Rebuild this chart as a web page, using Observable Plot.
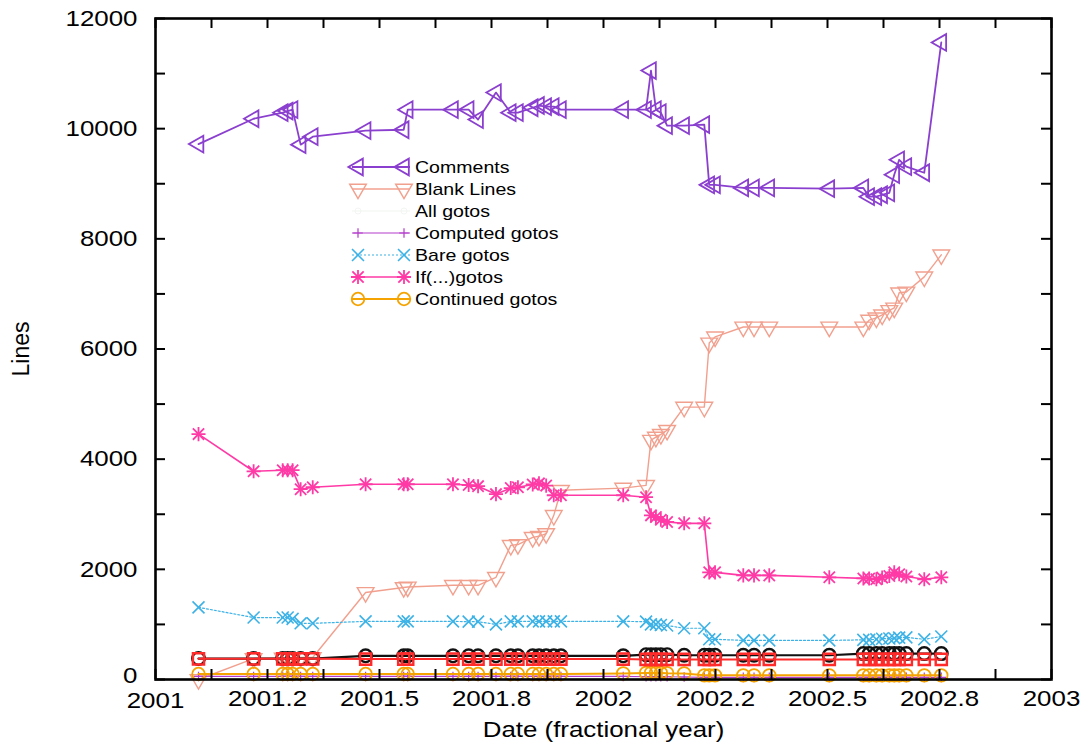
<!DOCTYPE html>
<html><head><meta charset="utf-8">
<script src="https://cdn.jsdelivr.net/npm/d3@7"></script>
<script src="https://cdn.jsdelivr.net/npm/@observablehq/plot@0.6"></script>
<style>
body{margin:0;background:#fff;}
#wrap{position:relative;width:1086px;height:745px;font-family:"Liberation Sans",Arial,sans-serif;overflow:hidden;}
#wrap svg{position:absolute;left:0;top:0;}
</style></head><body><div id="wrap"></div>
<script>
// ---- data (dates in fractional years, values in lines) ----
const dates = [2001.096,2001.219,2001.284,2001.295,2001.306,2001.324,2001.351,2001.469,2001.554,2001.563,
  2001.664,2001.699,2001.720,2001.760,2001.793,2001.809,2001.842,2001.856,2001.872,2001.889,
  2001.905,2002.044,2002.095,2002.106,2002.117,2002.128,2002.142,2002.180,2002.225,2002.236,
  2002.249,2002.312,2002.336,2002.370,2002.504,2002.580,2002.593,2002.609,2002.622,2002.638,
  2002.649,2002.660,2002.676,2002.716,2002.754];
const comments = [9720,10180,10290,10320,10345,9710,9855,9965,9980,10345,
  10345,10345,10165,10655,10290,10290,10380,10420,10400,10400,
  10345,10345,10345,11055,10345,10290,10055,10055,10075,8980,
  8980,8925,8925,8925,8910,8925,8765,8765,8800,8835,
  9165,9435,9310,9200,11565];
const blankLines = [0,380,390,390,395,400,400,1580,1670,1680,
  1710,1710,1710,1855,2435,2450,2580,2600,2650,2980,
  3435,3475,3525,4345,4400,4450,4525,4945,4945,6110,
  6220,6400,6400,6400,6400,6400,6525,6565,6620,6700,
  6745,7020,7035,7310,7710];
const computedGotos = [55,55,55,55,55,55,55,55,55,55,
  55,55,55,55,55,55,55,55,55,55,
  55,55,50,50,50,50,50,45,40,40,
  40,38,38,38,38,38,38,38,38,38,
  38,38,38,38,38];
const bareGotos = [1310,1125,1125,1125,1100,1020,1020,1055,1055,1055,
  1055,1050,1050,1000,1055,1055,1055,1055,1055,1055,
  1055,1055,1050,1000,1000,990,980,930,930,730,
  730,710,710,710,710,720,720,730,740,745,
  750,760,765,730,780];
const ifGotos = [4455,3780,3800,3800,3800,3455,3490,3545,3545,3545,
  3545,3530,3510,3365,3475,3490,3540,3560,3520,3345,
  3345,3345,3310,2980,2950,2900,2860,2835,2835,1945,
  1945,1890,1890,1890,1855,1835,1835,1820,1850,1880,
  1945,1910,1870,1820,1855];
const continuedGotos = [100,100,100,100,100,100,100,100,100,100,
  100,100,100,100,100,100,100,100,100,100,
  100,110,120,120,120,120,115,110,75,75,
  75,75,75,75,75,75,75,75,75,75,
  75,75,75,75,75];
const blackSeries = [380,380,380,380,380,380,380,430,430,430,
  430,430,430,430,430,430,430,430,430,430,
  430,430,450,450,450,450,450,440,440,440,
  440,440,440,440,440,470,470,470,470,470,
  470,470,470,470,470];
const redSeries = [375,375,375,375,375,375,375,370,370,370,
  370,370,370,370,370,370,370,370,370,370,
  370,370,365,365,365,365,365,365,365,365,
  365,365,365,365,365,365,365,365,365,365,
  365,365,365,365,365];

const xTickValues = [2001,2001.25,2001.5,2001.75,2002,2002.25,2002.5,2002.75,2003];
const xTickLabels = ["2001","2001.2","2001.5","2001.8","2002","2002.2","2002.5","2002.8","2003"];
const yTickValues = [0,2000,4000,6000,8000,10000,12000];
const yTickLabels = ["0","2000","4000","6000","8000","10000","12000"];
const legendNames = ["Comments","Blank Lines","All gotos","Computed gotos","Bare gotos","If(...)gotos","Continued gotos"];

// ---- custom symbols ----
const S3 = Math.sqrt(3);
const triLeft = {draw(c, size){const y=-Math.sqrt(size/(S3*3)); c.moveTo(2*y,0); c.lineTo(-y,-S3*y); c.lineTo(-y,S3*y); c.closePath();}};
const triDown = {draw(c, size){const y=-Math.sqrt(size/(S3*3)); c.moveTo(0,-2*y); c.lineTo(S3*y,y); c.lineTo(-S3*y,y); c.closePath();}};

// ---- series styles ----
const series = [
  {name:"Comments", values:comments, color:"#8a3fcf", symbols:[[triLeft,6.2]], lw:1.8, mw:1.8},
  {name:"Blank Lines", values:blankLines, color:"#f2a08e", symbols:[[triDown,6.2]], lw:1.4, mw:1.4},
  {name:"Computed gotos", values:computedGotos, color:"#b43ccc", symbols:[["plus",3.2]], lw:1.2, mw:1.2},
  {name:"Bare gotos", values:bareGotos, color:"#3cb2e6", symbols:[["times",5.5]], lw:1.2, mw:1.6, dash:"2,2"},
  {name:"If(...)gotos", values:ifGotos, color:"#ff3aa6", symbols:[["plus",4.6],["times",5.2]], lw:1.6, mw:1.8},
  {name:"Continued gotos", values:continuedGotos, color:"#f5a300", symbols:[["circle",6.3]], lw:2, mw:1.8},
  {name:"black", values:blackSeries, color:"#111111", symbols:[["circle",6.3]], lw:2.2, mw:2.4},
  {name:"red", values:redSeries, color:"#ff2a2a", symbols:[["square",6.3]], lw:2, mw:2.4}
];

const W=1086, H=745, mL=155, mR=35, mT=18, mB=66;
const innerW = W-mL-mR, innerH = H-mT-mB, tickLen = 10;
const xAllTicks = d3.range(2001, 2003.0001, 0.125);
const yAllTicks = d3.range(0, 12001, 1000);
const yFmt = d => yTickLabels[yTickValues.indexOf(d)];
const xFmt = d => xTickLabels[xTickValues.indexOf(d)];

const marks = [];
for (const s of series) {
  const rows = dates.map((d,i)=>({date:d, value:s.values[i]}));
  marks.push(Plot.line(rows, {x:"date", y:"value", stroke:s.color, strokeWidth:s.lw, strokeDasharray:s.dash}));
  for (const [sym, r] of s.symbols)
    marks.push(Plot.dot(rows, {x:"date", y:"value", symbol:sym, r, stroke:s.color, fill:"none", strokeWidth:s.mw}));
}
marks.push(
  Plot.frame({stroke:"#000", strokeWidth:2.6}),
  Plot.tickX(xAllTicks, {x:d=>d, insetTop:innerH-tickLen, stroke:"#000", strokeWidth:2}),
  Plot.tickX(xAllTicks, {x:d=>d, insetBottom:innerH-tickLen, stroke:"#000", strokeWidth:2}),
  Plot.tickY(yAllTicks, {y:d=>d, insetRight:innerW-tickLen, stroke:"#000", strokeWidth:2}),
  Plot.tickY(yAllTicks, {y:d=>d, insetLeft:innerW-tickLen, stroke:"#000", strokeWidth:2}),
  // first x label and the zero y label sit corner to corner; nudge them apart slightly
  Plot.axisX(xTickValues.slice(1), {tickFormat:xFmt, tickSize:0, tickPadding:11, fontSize:22.5, label:null}),
  Plot.axisX(xTickValues.slice(0,1), {tickFormat:xFmt, tickSize:0, tickPadding:13, fontSize:22.5, label:null}),
  Plot.axisY(yTickValues.slice(1), {tickFormat:yFmt, tickSize:0, tickPadding:18, fontSize:22.5, label:null}),
  Plot.axisY(yTickValues.slice(0,1), {tickFormat:yFmt, tickSize:0, tickPadding:18, dy:-4, fontSize:22.5, label:null}),
  Plot.text(["Date (fractional year)"], {frameAnchor:"bottom", dy:50, lineAnchor:"middle", textAnchor:"middle", fontSize:22.5, fill:"#000"}),
  Plot.text(["Lines"], {frameAnchor:"left", dx:-134, rotate:-90, lineAnchor:"middle", textAnchor:"middle", fontSize:23, fill:"#000", className:"ylab"})
);

const chart = Plot.plot({
  width:W, height:H, marginLeft:mL, marginRight:mR, marginTop:mT, marginBottom:mB,
  x:{domain:[2001,2003]}, y:{domain:[0,12000]},
  style:{fontFamily:'"Liberation Sans", Arial, sans-serif', background:"#fff", color:"#000", overflow:"visible"},
  marks
});
const wrap = document.getElementById("wrap");
wrap.appendChild(chart);

// ---- legend (inside the plot area, as in the original) ----
const legendStyles = {
  "Comments": series[0], "Blank Lines": series[1], "Computed gotos": series[2],
  "Bare gotos": series[3], "If(...)gotos": series[4], "Continued gotos": series[5],
  "All gotos": {color:"#f2f5f1", symbols:[["circle",3]], lw:1.2, mw:1}
};
const symMap = {plus:d3.symbolPlus, times:d3.symbolTimes, circle:d3.symbolCircle, square:d3.symbolSquare};
const lg = d3.select(wrap).append("svg").attr("width",W).attr("height",H)
  .style("pointer-events","none").attr("font-family",'"Liberation Sans", Arial, sans-serif');
const legTop = 167, legStep = 22, lx1 = 352, lx2 = 410, mA = 358, mB2 = 404, tx = 415;
legendNames.forEach((name, i) => {
  const s = legendStyles[name];
  const y = legTop + i*legStep;
  const g = lg.append("g");
  g.append("line").attr("x1",lx1).attr("x2",lx2).attr("y1",y).attr("y2",y)
    .attr("stroke",s.color).attr("stroke-width",s.lw).attr("stroke-dasharray",s.dash||null);
  for (const mx of [mA, mB2]) for (const [sym, r] of s.symbols) {
    const type = typeof sym === "string" ? symMap[sym] : sym;
    g.append("path").attr("d", d3.symbol(type, Math.PI*r*r)()).attr("transform",`translate(${mx},${y})`)
      .attr("fill","none").attr("stroke",s.color).attr("stroke-width",s.mw);
  }
  g.append("text").attr("x",tx).attr("y",y).attr("dy","0.36em").attr("font-size",17).attr("fill","#000").text(name);
});

// the scanned original is stretched horizontally: widen horizontal text a little
wrap.querySelectorAll("text").forEach(t => {
  if (t.closest(".ylab")) return;
  const len = t.getComputedTextLength();
  if (len > 0) { t.setAttribute("textLength", (len*1.15).toFixed(1)); t.setAttribute("lengthAdjust","spacingAndGlyphs"); }
});
</script></body></html>
